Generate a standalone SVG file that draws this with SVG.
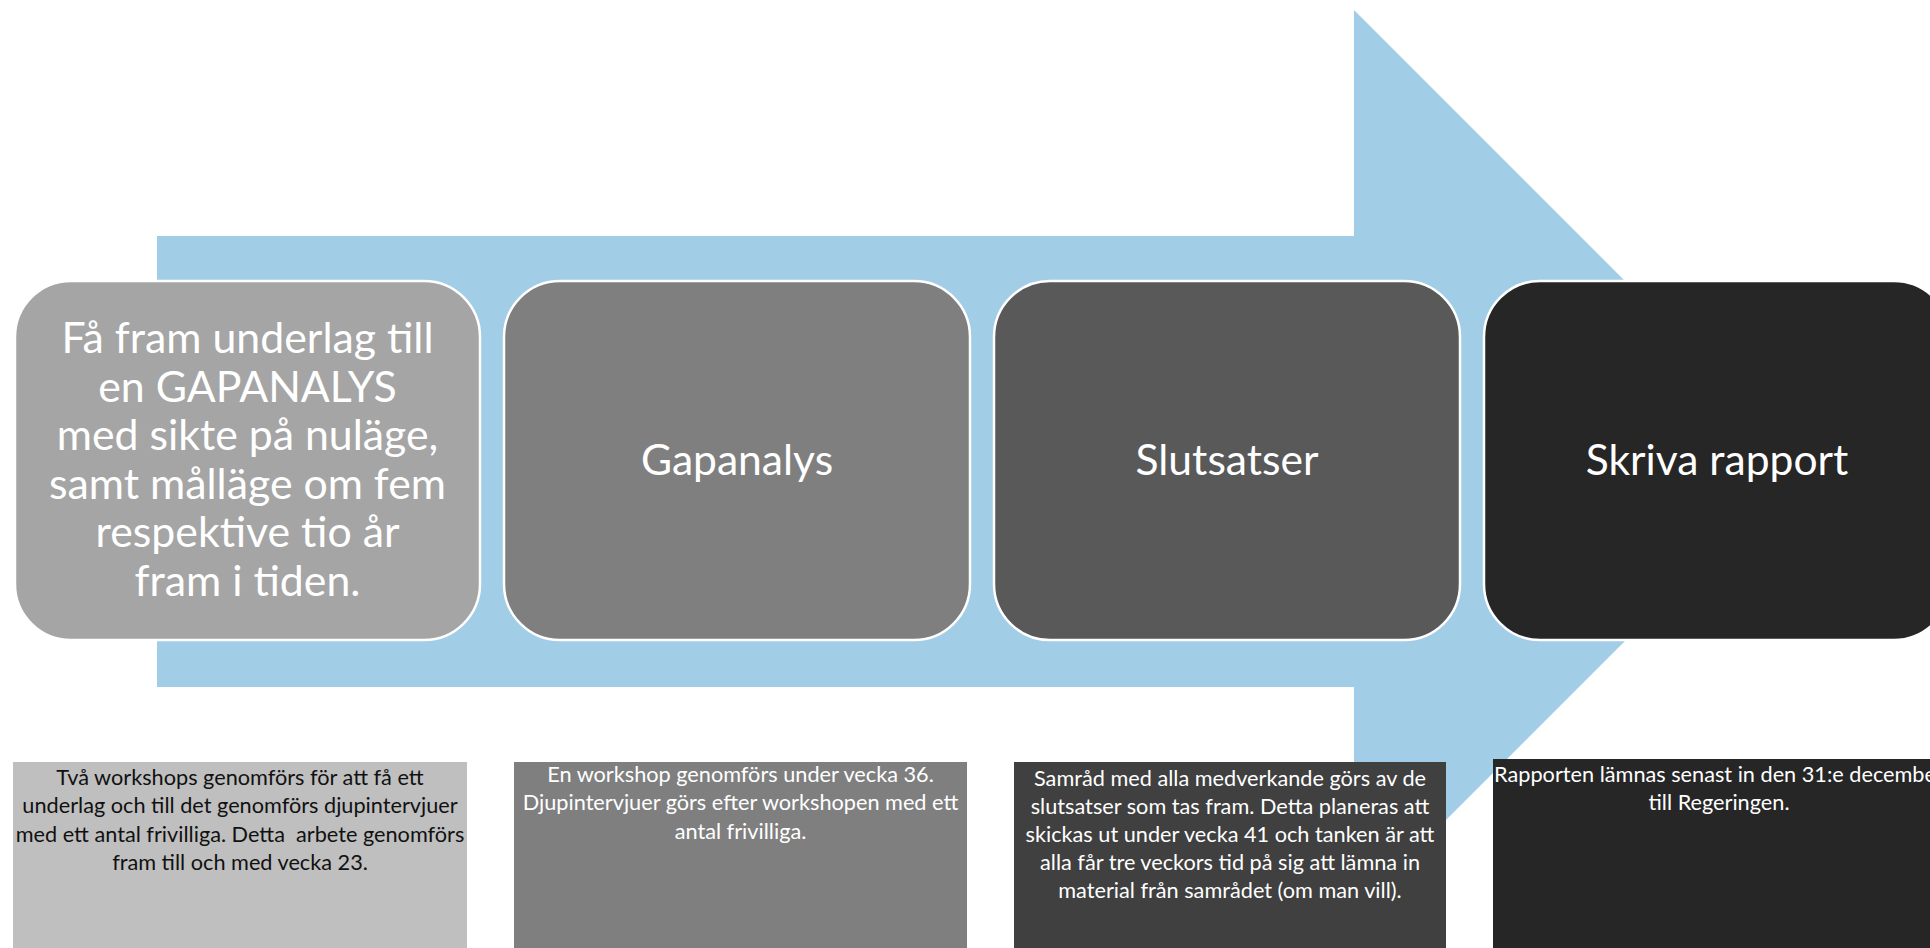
<svg xmlns="http://www.w3.org/2000/svg" width="1930" height="948" viewBox="0 0 1930 948">
<style>
.t{font-family:"Lato","Open Sans","Liberation Sans",sans-serif;text-anchor:middle;fill:#ffffff;white-space:pre}
.big{font-size:42.8px}
.mid{font-size:42.6px}
.small{font-size:21.7px}
.dark{fill:#111111}
.rb{stroke:#ffffff;stroke-width:2.5}
</style>
<rect width="1930" height="948" fill="#ffffff"/>
<g id="connectors">
<polygon id="arrow" points="157,236 1354,236 1354,10 1805,461 1354,912 1354,687 157,687" fill="#A2CDE6"/>
</g>
<g id="step1">
<rect class="rb" x="15" y="281" width="465" height="359" rx="56" fill="#A5A5A5"/>
<text class="t big" x="247.5"><tspan x="247.5" y="353">Få fram underlag till</tspan><tspan x="247.5" y="401.6">en GAPANALYS</tspan><tspan x="247.5" y="450.2">med sikte på nuläge,</tspan><tspan x="247.5" y="498.8">samt målläge om fem</tspan><tspan x="247.5" y="547.4">respektive tio år</tspan><tspan x="247.5" y="596">fram i tiden.</tspan></text>
</g>
<g id="step2">
<rect class="rb" x="504" y="281" width="466" height="359" rx="56" fill="#7F7F7F"/>
<text class="t mid" x="737" y="475">Gapanalys</text>
</g>
<g id="step3">
<rect class="rb" x="994" y="281" width="466" height="359" rx="56" fill="#595959"/>
<text class="t mid" x="1227" y="475">Slutsatser</text>
</g>
<g id="step4">
<rect class="rb" x="1484" y="281" width="466" height="359" rx="56" fill="#262626"/>
<text class="t mid" x="1717" y="475">Skriva rapport</text>
</g>
<g id="note1">
<rect x="13" y="762" width="454" height="200" fill="#BFBFBF"/>
<text class="t small dark"><tspan x="240" y="785">Två workshops genomförs för att få ett</tspan><tspan x="240" y="813.4">underlag och till det genomförs djupintervjuer</tspan><tspan x="240" y="841.8">med ett antal frivilliga. Detta  arbete genomförs</tspan><tspan x="240" y="870.2">fram till och med vecka 23.</tspan></text>
</g>
<g id="note2">
<rect x="514" y="762" width="453" height="200" fill="#7F7F7F"/>
<text class="t small"><tspan x="740.5" y="782">En workshop genomförs under vecka 36.</tspan><tspan x="740.5" y="810.4">Djupintervjuer görs efter workshopen med ett</tspan><tspan x="740.5" y="838.8">antal frivilliga.</tspan></text>
</g>
<g id="note3">
<rect x="1014" y="762" width="432" height="200" fill="#404040"/>
<text class="t small"><tspan x="1230" y="786">Samråd med alla medverkande görs av de</tspan><tspan x="1230" y="814">slutsatser som tas fram. Detta planeras att</tspan><tspan x="1230" y="842">skickas ut under vecka 41 och tanken är att</tspan><tspan x="1230" y="870">alla får tre veckors tid på sig att lämna in</tspan><tspan x="1230" y="898">material från samrådet (om man vill).</tspan></text>
</g>
<g id="note4">
<rect x="1493" y="759" width="453" height="200" fill="#262626"/>
<text class="t small"><tspan x="1719" y="782">Rapporten lämnas senast in den 31:e december</tspan><tspan x="1719" y="810">till Regeringen.</tspan></text>
</g>
</svg>
